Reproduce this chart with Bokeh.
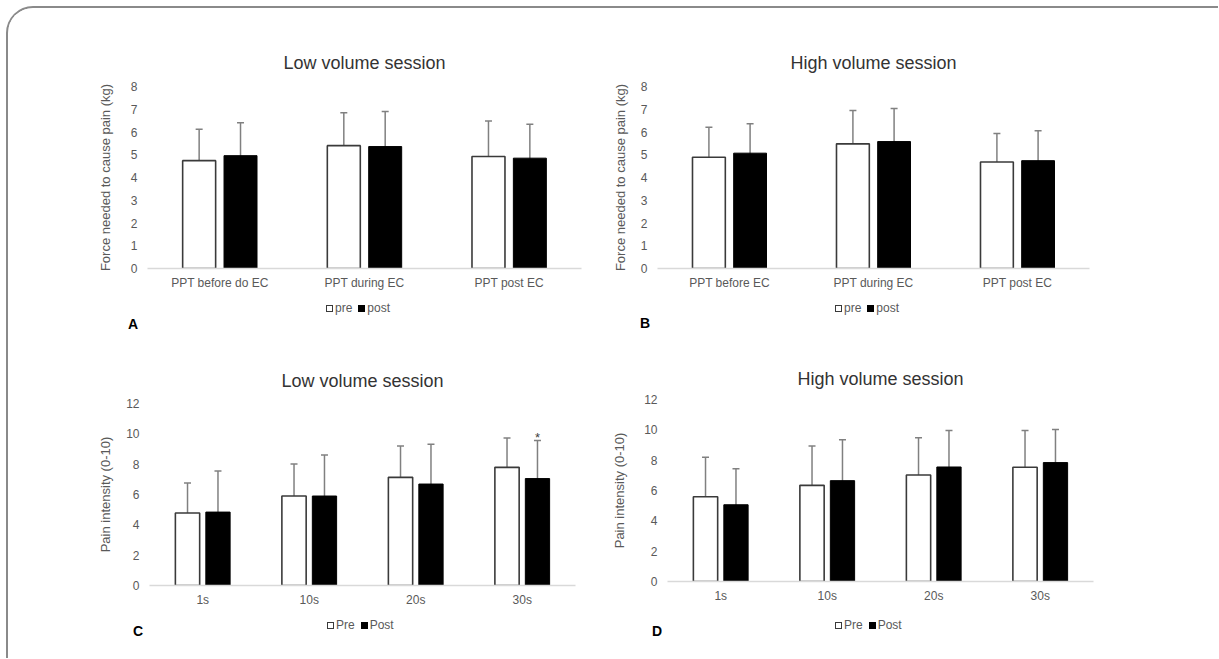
from bokeh.plotting import figure
from bokeh.models import (ColumnDataSource, FactorRange, Range1d, FixedTicker, Whisker,
                          TeeHead, Div)
from bokeh.transform import dodge
from bokeh.layouts import row, column
from bokeh.embed import file_html
from bokeh.resources import INLINE
from bokeh.core.properties import value

# ---------------- data ----------------
ppt_cats_low = ["PPT before do EC", "PPT during EC", "PPT post EC"]
ppt_cats_high = ["PPT before EC", "PPT during EC", "PPT post EC"]
pain_cats = ["1s", "10s", "20s", "30s"]
ppt_yticks = [0, 1, 2, 3, 4, 5, 6, 7, 8]
pain_yticks = [0, 2, 4, 6, 8, 10, 12]

# A: low volume, pressure pain threshold (kg)
a_pre = [4.74, 5.40, 4.92]
a_pre_lo = [3.37, 4.01, 3.33]
a_pre_hi = [6.12, 6.85, 6.48]
a_post = [4.96, 5.36, 4.85]
a_post_lo = [3.48, 3.92, 3.37]
a_post_hi = [6.41, 6.90, 6.34]

# B: high volume, pressure pain threshold (kg)
b_pre = [4.89, 5.48, 4.68]
b_pre_lo = [3.49, 4.01, 3.67]
b_pre_hi = [6.21, 6.94, 5.93]
b_post = [5.07, 5.58, 4.74]
b_post_lo = [3.64, 4.08, 3.77]
b_post_hi = [6.36, 7.03, 6.05]

# C: low volume, pain intensity (0-10)
c_pre = [4.78, 5.90, 7.13, 7.79]
c_pre_lo = [2.14, 3.21, 4.49, 5.28]
c_pre_hi = [6.76, 8.01, 9.20, 9.73]
c_post = [4.84, 5.90, 6.69, 7.05]
c_post_lo = [2.16, 3.19, 4.05, 4.49]
c_post_hi = [7.55, 8.61, 9.31, 9.56]
c_post_sig = ["", "", "", "*"]

# D: high volume, pain intensity (0-10)
d_pre = [5.59, 6.34, 7.02, 7.53]
d_pre_lo = [3.21, 3.76, 4.65, 5.35]
d_pre_hi = [8.19, 8.94, 9.47, 9.95]
d_post = [5.06, 6.65, 7.55, 7.84]
d_post_lo = [2.71, 4.07, 5.24, 5.77]
d_post_hi = [7.44, 9.34, 9.95, 10.02]
d_post_sig = ["", "", "", ""]

FONT = "Liberation Sans"
AXIS_TXT = "#595959"


def panel(cats, pre, pre_lo, pre_hi, post, post_lo, post_hi, sig, yticks,
          ylabel, title, g):
    p = figure(frame_width=g["FW"], frame_height=g["FH"],
               x_range=FactorRange(factors=cats),
               y_range=Range1d(yticks[0], yticks[-1]),
               min_border_left=g["L"], min_border_right=g["R"], min_border_top=g["T"],
               min_border_bottom=g["B"], toolbar_location=None, output_backend="svg",
               outline_line_color=None, background_fill_color="white",
               border_fill_color="white")
    p.xgrid.grid_line_color = None
    p.ygrid.grid_line_color = None

    src = ColumnDataSource(dict(cat=cats, pre=pre, pre_lo=pre_lo, pre_hi=pre_hi,
                                post=post, post_lo=post_lo, post_hi=post_hi, sig=sig))
    off = 0.143
    bw = 0.228
    p.vbar(x=dodge("cat", -off, range=p.x_range), top="pre", width=bw, source=src,
           fill_color="white", line_color="#3a3a3a", line_width=1.6)
    p.vbar(x=dodge("cat", off, range=p.x_range), top="post", width=bw, source=src,
           fill_color="black", line_color="black", line_width=1.0)
    for o, lo, hi in ((-off, "pre_lo", "pre_hi"), (off, "post_lo", "post_hi")):
        w = Whisker(source=src, base=dodge("cat", o, range=p.x_range), lower=lo, upper=hi,
                    line_color="#808080", line_width=1.5,
                    upper_head=TeeHead(size=7, line_color="#808080", line_width=1.5),
                    lower_head=TeeHead(size=7, line_color="#808080", line_width=1.5))
        p.add_layout(w)
    p.text(x=dodge("cat", off, range=p.x_range), y="post_hi", text="sig", source=src,
           text_font=value(FONT), text_font_size="13px", text_align="center",
           text_baseline="alphabetic", text_color="#404040", y_offset=-3)

    # axes
    p.yaxis.ticker = FixedTicker(ticks=yticks)
    p.yaxis.axis_line_color = None
    p.yaxis.major_tick_line_color = None
    p.yaxis.minor_tick_line_color = None
    p.yaxis.major_tick_out = 0
    p.yaxis.major_label_standoff = 10
    p.yaxis.major_label_text_font = FONT
    p.yaxis.major_label_text_font_size = "12px"
    p.yaxis.major_label_text_color = AXIS_TXT
    p.yaxis.axis_label = ylabel
    p.yaxis.axis_label_text_font = FONT
    p.yaxis.axis_label_text_font_size = "13px"
    p.yaxis.axis_label_text_font_style = "normal"
    p.yaxis.axis_label_text_color = AXIS_TXT
    p.yaxis.axis_label_standoff = g["ls"]

    p.xaxis.axis_line_color = "#d9d9d9"
    p.xaxis.axis_line_width = 1.5
    p.xaxis.major_tick_line_color = None
    p.xaxis.minor_tick_line_color = None
    p.xaxis.major_tick_out = 0
    p.xaxis.major_label_standoff = 7
    p.xaxis.major_label_text_font = FONT
    p.xaxis.major_label_text_font_size = "12px"
    p.xaxis.major_label_text_color = AXIS_TXT

    # title
    p.title.text = title
    p.title.align = "center"
    p.title.standoff = g["tst"]
    p.title.text_font = FONT
    p.title.text_font_size = "18px"
    p.title.text_font_style = "normal"
    p.title.text_color = "#333333"
    return p


def footer(names, letter, d):
    sq = ("display:inline-block;box-sizing:border-box;width:7px;height:7px;"
          "margin-right:2px;vertical-align:baseline;")
    html = (
        f'<div style="position:relative;width:{d["W"]}px;height:{d["H"]}px;'
        f"font-family:'Liberation Sans',Arial,sans-serif;\">"
        f'<span style="position:absolute;left:{d["lx"]}px;top:{d["ly"]}px;'
        f'font-size:14px;font-weight:bold;line-height:16px;color:#000;">{letter}</span>'
        f'<span style="position:absolute;left:{d["gx"]}px;top:{d["gy"]}px;'
        f'font-size:12px;line-height:14px;color:{AXIS_TXT};white-space:nowrap;">'
        f'<span style="{sq}border:1px solid #3a3a3a;background:#fff;"></span>{names[0]}'
        f'<span style="{sq}margin-left:6px;background:#000;"></span>{names[1]}'
        f'</span></div>')
    return Div(text=html, width=d["W"], height=d["H"], margin=0)


gA = dict(FW=434, FH=182, L=139, R=27, T=78, B=28, ls=15, tst=27)
gB = dict(FW=432, FH=182, L=49, R=129, T=78, B=28, ls=10, tst=27)
gC = dict(FW=426, FH=182, L=141, R=33, T=63, B=28, ls=10, tst=26)
gD = dict(FW=426, FH=182, L=59, R=125, T=59, B=32, ls=14, tst=22)

fA = dict(W=600, H=44, lx=120, ly=20, gx=318, gy=5)
fB = dict(W=610, H=44, lx=32, ly=19, gx=227, gy=5)
fC = dict(W=600, H=45, lx=125, ly=10, gx=319, gy=5)
fD = dict(W=610, H=45, lx=44, ly=10, gx=227, gy=5)

pA = panel(ppt_cats_low, a_pre, a_pre_lo, a_pre_hi, a_post, a_post_lo, a_post_hi,
           ["", "", ""], ppt_yticks, "Force needed to cause pain (kg)",
           "Low volume session", gA)
pB = panel(ppt_cats_high, b_pre, b_pre_lo, b_pre_hi, b_post, b_post_lo, b_post_hi,
           ["", "", ""], ppt_yticks, "Force needed to cause pain (kg)",
           "High volume session", gB)
pC = panel(pain_cats, c_pre, c_pre_lo, c_pre_hi, c_post, c_post_lo, c_post_hi,
           c_post_sig, pain_yticks, "Pain intensity (0-10)",
           "Low volume session", gC)
pD = panel(pain_cats, d_pre, d_pre_lo, d_pre_hi, d_post, d_post_lo, d_post_hi,
           d_post_sig, pain_yticks, "Pain intensity (0-10)",
           "High volume session", gD)

qA = column(pA, footer(["pre", "post"], "A", fA))
qB = column(pB, footer(["pre", "post"], "B", fB))
qC = column(pC, footer(["Pre", "Post"], "C", fC))
qD = column(pD, footer(["Pre", "Post"], "D", fD))

grid = column(row(qA, qB), row(qC, qD),
              styles={"border-left": "2.5px solid #8a8a8a",
                      "border-top": "2.5px solid #8a8a8a",
                      "border-top-left-radius": "27px",
                      "margin-left": "6px", "margin-top": "6px",
                      "overflow": "hidden"})

open("out.html", "w").write(file_html(grid, INLINE))
